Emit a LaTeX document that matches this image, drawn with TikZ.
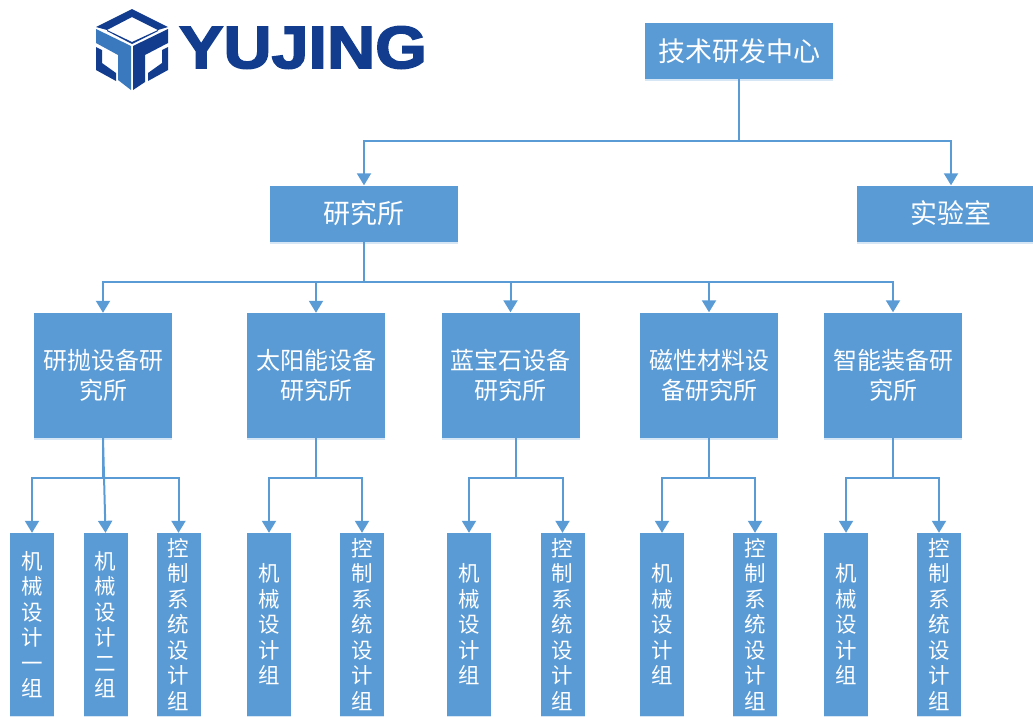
\documentclass[tikz,border=0pt]{standalone}
\usepackage{fontspec}
\newfontfamily\cjk{Noto Sans CJK SC}
\newfontfamily\logofont[FakeBold=2.5]{Liberation Sans Bold}
\usetikzlibrary{arrows.meta,calc,shadows}
\definecolor{boxblue}{HTML}{5B9BD5}
\definecolor{logodark}{HTML}{123C8E}
\definecolor{logolight}{HTML}{3B79BF}
\tikzset{
    orgbox/.style={fill=boxblue,text=white,align=center,inner sep=0pt,
        drop shadow={shadow xshift=0pt,shadow yshift=-2pt,fill=boxblue,opacity=.25}},
    headbox/.style={orgbox,minimum width=188pt,minimum height=56pt,font=\cjk\fontsize{27}{30}\selectfont},
    unitbox/.style={orgbox,minimum width=138pt,minimum height=125pt,font=\cjk\fontsize{24}{30}\selectfont},
    groupbox/.style={orgbox,minimum width=44pt,minimum height=183pt,font=\cjk\fontsize{21.5}{25.5}\selectfont},
    link/.style={draw=boxblue,line width=2pt},
    arrowlink/.style={link,-{Triangle[width=14pt,length=12pt]}},
}
\begin{document}
\begin{tikzpicture}[x=1pt,y=-1pt]
    \useasboundingbox (0,0) rectangle (1033,716);
    % logo
    \fill[logodark] (132,9) -- (168,27) -- (158,30) -- (132,17) -- (107,30) -- (96,27) -- cycle;
    \fill[logodark] (107,30) -- (132,42) -- (158,30) -- (158,31) -- (132,44) -- (107,31) -- cycle;
    \fill[logolight] (96,29) -- (131,46) -- (131,90) -- (118,80) -- (118,55) -- (96,43) -- cycle;
    \fill[logodark] (168,29) -- (168,43) -- (145,55) -- (145,82) -- (133,90) -- (133,46) -- cycle;
    \fill[logodark] (96,47) -- (102,50) -- (102,63) -- (116,73) -- (116,81) -- (96,70) -- cycle;
    \fill[logodark] (168,47) -- (168,70) -- (148,81) -- (148,73) -- (162,63) -- (162,50) -- cycle;
    \node[text=logodark,inner sep=0pt,font=\logofont\fontsize{60}{60}\selectfont] (logotext) at (303,47.5) {\scalebox{1.11}[1]{YUJING}};
    % boxes
    \node[headbox] (center) at (739,51) {技术研发中心};
    \node[headbox] (institute) at (364,213.5) {研究所};
    \node[headbox] (lab) at (951,213.5) {实验室};
    \node[unitbox] (polish) at (103,375.5) {研抛设备研\\究所};
    \node[unitbox] (solar) at (316,375.5) {太阳能设备\\研究所};
    \node[unitbox] (sapphire) at (510.5,375) {蓝宝石设备\\研究所};
    \node[unitbox] (magnet) at (709,375) {磁性材料设\\备研究所};
    \node[unitbox] (smart) at (893,375) {智能装备研\\究所};
    \node[groupbox] (polishA) at (32,624.5) {机\\械\\设\\计\\一\\组};
    \node[groupbox] (polishB) at (105.5,624.5) {机\\械\\设\\计\\二\\组};
    \node[groupbox] (polishC) at (178.5,624.5) {控\\制\\系\\统\\设\\计\\组};
    \foreach \name/\xa/\xb in {solar/269/362,sapphire/469/562.5,magnet/662/755,smart/846/939}{
        \node[groupbox] (\name A) at (\xa,624.5) {机\\械\\设\\计\\组};
        \node[groupbox] (\name C) at (\xb,624.5) {控\\制\\系\\统\\设\\计\\组};
    }
    % connectors
    \coordinate (busA) at (0,141);
    \coordinate (busB) at (0,282);
    \coordinate (busC) at (0,478);
    \draw[link] (center.south) -- (center.south |- busA);
    \draw[arrowlink] (center.south |- busA) -| (institute.north);
    \draw[arrowlink] (center.south |- busA) -| (lab.north);
    \draw[link] (institute.south) -- (institute.south |- busB);
    \foreach \name in {polish,solar,sapphire,magnet,smart}
        \draw[arrowlink] (institute.south |- busB) -| (\name.north);
    \draw[link] (polish.south) -- (polish.south |- busC);
    \draw[arrowlink] (polish.south |- busC) -| (polishA.north);
    \draw[arrowlink] (polish.south) -- (polishB.north);
    \draw[arrowlink] (polish.south |- busC) -| (polishC.north);
    \foreach \name in {solar,sapphire,magnet,smart}{
        \coordinate (\name mid) at ($(\name A.north)!.5!(\name C.north)$);
        \draw[link] (\name mid |- \name.south) -- (\name mid |- busC);
        \draw[arrowlink] (\name mid |- busC) -| (\name A.north);
        \draw[arrowlink] (\name mid |- busC) -| (\name C.north);
    }
\end{tikzpicture}
\end{document}
